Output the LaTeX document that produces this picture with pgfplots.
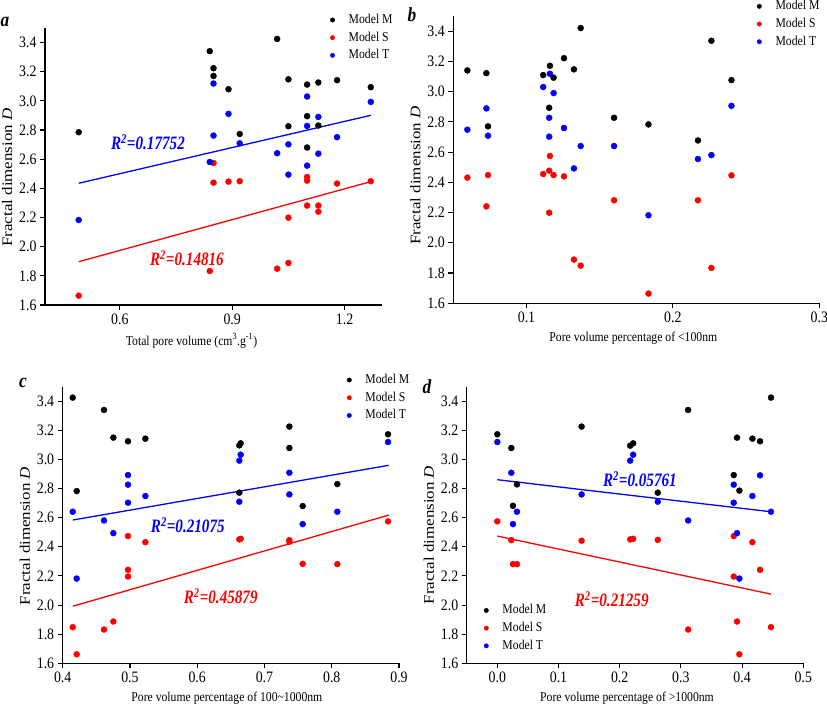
\documentclass[border=0pt]{standalone}
\usepackage{graphicx}
\usepackage{fontspec}
\setmainfont{Liberation Serif}[FakeStretch=0.87]
\newfontfamily\ylfont{Liberation Serif}
\newfontfamily\rfont{Liberation Serif}[FakeStretch=0.8]
\usepackage{pgfplots}
\pgfplotsset{compat=1.18}
\definecolor{mblue}{RGB}{0,0,255}
\definecolor{mred}{RGB}{255,0,0}
\pgfplotsset{
  common/.style={
    scale only axis, anchor=south west,
    axis x line*=bottom, axis y line*=left,
    axis line style={-, line width=1.1bp},
    tick style={line width=1.1bp, black},
    major tick length=5bp, tick align=outside,
    ymin=1.6, ymax=3.5,
    ytick={1.6,1.8,2.0,2.2,2.4,2.6,2.8,3.0,3.2,3.4},
    yticklabel style={/pgf/number format/.cd, fixed, fixed zerofill, precision=1},
    tick label style={font=\fontsize{16}{16}\selectfont},
    /pgf/number format/assume math mode=true,
    clip=false,
    legend cell align=left,
    legend style={draw=none, fill=none, inner sep=0pt,
      font=\fontsize{13.5}{13.5}\selectfont,
      nodes={inner sep=0pt, text height=10bp, text depth=3bp},
      column sep=14bp, row sep=4.7bp, anchor=west, xshift=-2bp},
    legend image code/.code={\draw[#1,mark size=2.2bp] plot coordinates {(0bp,0bp)};},
    xlabel style={font=\fontsize{13.5}{13.5}\selectfont, yshift=-2.5bp},
    ylabel={\scalebox{1}[0.86]{\ylfont\fontsize{17}{17}\selectfont Fractal dimension \textit{D}}},
  },
  msty/.style={only marks, mark=*, mark size=3bp, color=black},
  ssty/.style={only marks, mark=*, mark size=3bp, color=mred},
  tsty/.style={only marks, mark=*, mark size=3bp, color=mblue},
  bline/.style={mblue, line width=1.3bp, no marks},
  rline/.style={mred, line width=1.3bp, no marks},
}
\newcommand{\rlab}[1]{{\rfont\bfseries\itshape\fontsize{19}{19}\selectfont R\textsuperscript{2}=#1}}
\newcommand{\plab}[1]{{\bfseries\itshape\fontsize{20}{20}\selectfont #1}}
\begin{document}
\begin{tikzpicture}[x=1bp,y=1bp]
\useasboundingbox (0,0) rectangle (827,707);
% ---------- panel a ----------
\begin{axis}[common, at={(45bp,402bp)}, width=337bp, height=277bp,
  xmin=0.4, xmax=1.3, xtick={0.6,0.9,1.2},
  xticklabel style={/pgf/number format/.cd, fixed, fixed zerofill, precision=1},
  xlabel={Total pore volume (cm\textsuperscript{3}.g\textsuperscript{-1})},
  xlabel style={xshift=-22bp},
  ylabel style={at={(ticklabel cs:0.46)}},
  legend style={at={(rel axis cs:0.852,0.965)}}]
\addplot[msty] coordinates {(0.49,2.785)(0.84,3.341)(0.85,3.224)(0.85,3.171)(0.89,3.080)(0.92,2.773)(1.02,3.425)(1.05,3.148)(1.05,2.826)(1.10,3.112)(1.10,2.895)(1.10,2.680)(1.13,3.126)(1.13,2.831)(1.18,3.142)(1.27,3.094)};
\addlegendentry{Model M}
\addplot[ssty] coordinates {(0.49,1.664)(0.84,1.833)(0.85,2.574)(0.85,2.439)(0.89,2.446)(0.92,2.449)(1.02,1.849)(1.05,2.199)(1.05,1.888)(1.10,2.478)(1.10,2.453)(1.10,2.282)(1.13,2.282)(1.13,2.240)(1.18,2.433)(1.27,2.449)};
\addlegendentry{Model S}
\addplot[tsty] coordinates {(0.49,2.183)(0.84,2.581)(0.85,3.119)(0.85,2.762)(0.89,2.911)(0.92,2.709)(1.02,2.641)(1.05,2.702)(1.05,2.494)(1.10,3.030)(1.10,2.828)(1.10,2.556)(1.13,2.890)(1.13,2.638)(1.18,2.751)(1.27,2.993)};
\addlegendentry{Model T}
\addplot[bline, forget plot] coordinates {(0.49,2.435)(1.27,2.901)};
\addplot[rline, forget plot] coordinates {(0.49,1.897)(1.27,2.446)};
\node[mblue] at (axis cs:0.675,2.718) {\rlab{0.17752}};
\node[mred] at (axis cs:0.779,1.922) {\rlab{0.14816}};
\end{axis}
% ---------- panel b ----------
\begin{axis}[common, at={(453.3bp,403.7bp)}, width=366bp, height=287.3bp,
  xmin=0.05, xmax=0.3, xtick={0.1,0.2,0.3},
  xticklabel style={/pgf/number format/.cd, fixed, fixed zerofill, precision=1},
  xlabel={Pore volume percentage of {<}100nm},
  xlabel style={xshift=-3bp},
  ylabel style={at={(ticklabel cs:0.445)}},
  legend style={at={(rel axis cs:0.835,0.972)}}]
\addplot[msty] coordinates {(0.0596,3.140)(0.0726,3.122)(0.0737,2.770)(0.1114,3.109)(0.1155,2.893)(0.116,3.171)(0.1185,3.092)(0.1256,3.221)(0.1324,3.147)(0.137,3.420)(0.1598,2.827)(0.1833,2.783)(0.2171,2.677)(0.2263,3.336)(0.240,3.076)};
\addlegendentry{Model M}
\addplot[ssty] coordinates {(0.0596,2.431)(0.0726,2.241)(0.0737,2.448)(0.1114,2.455)(0.1155,2.199)(0.116,2.574)(0.1155,2.477)(0.1185,2.448)(0.1256,2.439)(0.1324,1.889)(0.137,1.849)(0.1598,2.281)(0.1833,1.664)(0.2171,2.281)(0.2263,1.834)(0.240,2.446)};
\addlegendentry{Model S}
\addplot[tsty] coordinates {(0.0596,2.748)(0.0726,2.889)(0.0737,2.708)(0.1114,3.030)(0.1155,2.827)(0.116,3.118)(0.1155,2.702)(0.1185,2.990)(0.1256,2.759)(0.1324,2.492)(0.137,2.640)(0.1598,2.640)(0.1833,2.182)(0.2171,2.554)(0.2263,2.580)(0.240,2.906)};
\addlegendentry{Model T}
\end{axis}
% ---------- panel c ----------
\begin{axis}[common, at={(62.7bp,43.7bp)}, width=336.3bp, height=276.6bp,
  xmin=0.4, xmax=0.9, xtick={0.4,0.5,0.6,0.7,0.8,0.9},
  xticklabel style={/pgf/number format/.cd, fixed, fixed zerofill, precision=1},
  xlabel={Pore volume percentage of 100\textasciitilde1000nm},
  xlabel style={xshift=-4bp},
  ylabel style={at={(ticklabel cs:0.46)}},
  legend style={at={(rel axis cs:0.851,0.960)}}]
\addplot[msty] coordinates {(0.4149,3.425)(0.4208,2.783)(0.4614,3.340)(0.4753,3.150)(0.4971,3.125)(0.5229,3.143)(0.6626,3.097)(0.6646,3.111)(0.6626,2.772)(0.737,3.226)(0.737,3.079)(0.7568,2.680)(0.8083,2.831)(0.8837,3.173)};
\addlegendentry{Model M}
\addplot[ssty] coordinates {(0.4149,1.848)(0.4208,1.662)(0.4614,1.832)(0.4753,1.887)(0.4971,2.474)(0.4971,2.242)(0.4971,2.196)(0.5229,2.432)(0.6626,2.451)(0.6646,2.455)(0.737,2.446)(0.737,2.435)(0.7568,2.283)(0.8083,2.281)(0.8837,2.575)};
\addlegendentry{Model S}
\addplot[tsty] coordinates {(0.4149,2.641)(0.4208,2.182)(0.4614,2.581)(0.4753,2.494)(0.4971,2.893)(0.4971,2.827)(0.4971,2.703)(0.5229,2.749)(0.6626,2.992)(0.6646,3.033)(0.6626,2.710)(0.737,2.909)(0.737,2.760)(0.7568,2.556)(0.8083,2.641)(0.8837,3.120)};
\addlegendentry{Model T}
\addplot[bline, forget plot] coordinates {(0.4149,2.584)(0.8847,2.960)};
\addplot[rline, forget plot] coordinates {(0.4149,1.992)(0.8847,2.618)};
\node[mblue] at (axis cs:0.586,2.55) {\rlab{0.21075}};
\node[mred] at (axis cs:0.635,2.062) {\rlab{0.45879}};
\end{axis}
% ---------- panel d ----------
\begin{axis}[common, at={(466.7bp,43.7bp)}, width=336.6bp, height=276.6bp,
  xmin=-0.05, xmax=0.5, xtick={0,0.1,0.2,0.3,0.4,0.5},
  xticklabel style={/pgf/number format/.cd, fixed, fixed zerofill, precision=1},
  xlabel={Pore volume percentage of {>}1000nm},
  xlabel style={xshift=-8bp},
  ylabel style={at={(ticklabel cs:0.464)}},
  legend style={at={(rel axis cs:0.057,0.127)}}]
\addplot[msty] coordinates {(0,3.173)(0.0229,3.079)(0.0256,2.682)(0.0321,2.829)(0.1377,3.226)(0.2171,3.095)(0.222,3.111)(0.2622,2.772)(0.3118,3.340)(0.3863,2.893)(0.3917,3.150)(0.3955,2.786)(0.4168,3.143)(0.4293,3.125)(0.4472,3.425)};
\addlegendentry{Model M}
\addplot[ssty] coordinates {(0,2.575)(0.0229,2.446)(0.0256,2.281)(0.0321,2.281)(0.1377,2.442)(0.2171,2.451)(0.222,2.455)(0.2622,2.448)(0.3118,1.832)(0.3863,2.474)(0.3863,2.196)(0.3917,1.887)(0.3955,1.662)(0.4168,2.432)(0.4293,2.242)(0.4472,1.848)};
\addlegendentry{Model S}
\addplot[tsty] coordinates {(0,3.120)(0.0229,2.909)(0.0256,2.556)(0.0321,2.641)(0.1377,2.760)(0.2171,2.992)(0.222,3.033)(0.2622,2.710)(0.3118,2.581)(0.3863,2.827)(0.3863,2.703)(0.3917,2.494)(0.3955,2.182)(0.4168,2.749)(0.4293,2.891)(0.4472,2.641)};
\addlegendentry{Model T}
\addplot[bline, forget plot] coordinates {(0,2.861)(0.4472,2.641)};
\addplot[rline, forget plot] coordinates {(0,2.474)(0.4472,2.075)};
\node[mblue] at (axis cs:0.233,2.866) {\rlab{0.05761}};
\node[mred] at (axis cs:0.187,2.042) {\rlab{0.21259}};
\end{axis}
% panel letters
\node at (5,685) {\plab{a}};
\node at (412,692) {\plab{b}};
\node at (23,324) {\plab{c}};
\node at (427,320) {\plab{d}};
\end{tikzpicture}
\end{document}
